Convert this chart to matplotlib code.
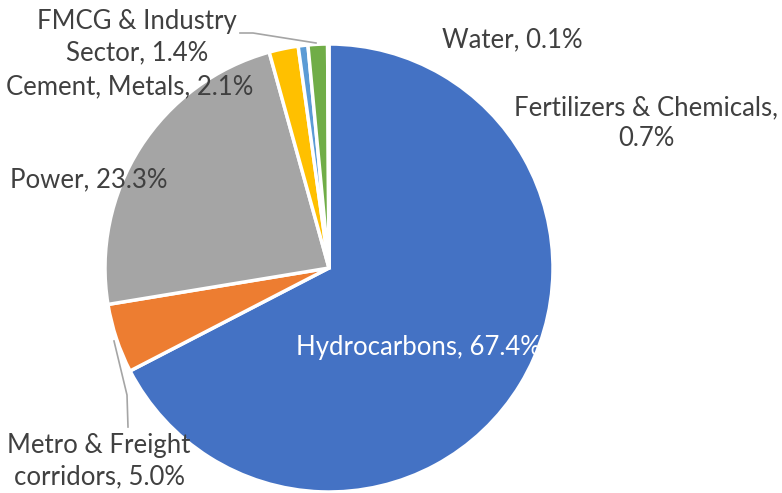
import matplotlib.pyplot as plt

# sector shares (%), clockwise from 12 o'clock
sectors = ["Hydrocarbons", "Metro & Freight corridors", "Power", "Cement, Metals",
           "Fertilizers & Chemicals", "FMCG & Industry Sector", "Water"]
shares = [67.4, 5.0, 23.3, 2.1, 0.7, 1.4, 0.1]
colors = ["#4472C4", "#ED7D31", "#A5A5A5", "#FFC000", "#5B9BD5", "#70AD47", "#264478"]

plt.rcParams['font.family'] = ['Lato', 'DejaVu Sans']

fig = plt.figure(figsize=(7.82, 4.93), dpi=100)
ax = fig.add_axes([0, 0, 1, 1])

ax.pie(shares, colors=colors, startangle=90, counterclock=False,
       center=(329, 225), radius=224, frame=True,
       wedgeprops=dict(edgecolor="white", linewidth=2.5))
ax.set_xlim(0, 782)
ax.set_ylim(0, 493)
ax.set_aspect('equal')
ax.axis('off')

txt = "#404040"
fs = 18.5
H = 493
# labels (text, x, y from top, colour)
labels = [
    ("Hydrocarbons, 67.4%", 418, 347, "white"),
    ("Water, 0.1%", 512, 40, txt),
    ("Fertilizers & Chemicals,\n0.7%", 646, 123, txt),
    ("FMCG & Industry\nSector, 1.4%", 137, 37, txt),
    ("Cement, Metals, 2.1%", 130, 87, txt),
    ("Power, 23.3%", 89, 180, txt),
    ("Metro & Freight\ncorridors, 5.0%", 99, 461, txt),
]
for s, x, y, c in labels:
    ax.text(x, H - y, s, ha="center", va="center", fontsize=fs, color=c,
            linespacing=1.3)

# leader lines
ax.plot([240, 253, 316], [H - 33, H - 33, H - 43], color="#A5A5A5", lw=1.2)
ax.plot([128, 127, 114], [H - 427, H - 395, H - 341], color="#A5A5A5", lw=1.2)

fig.savefig("out.png", dpi=100)
